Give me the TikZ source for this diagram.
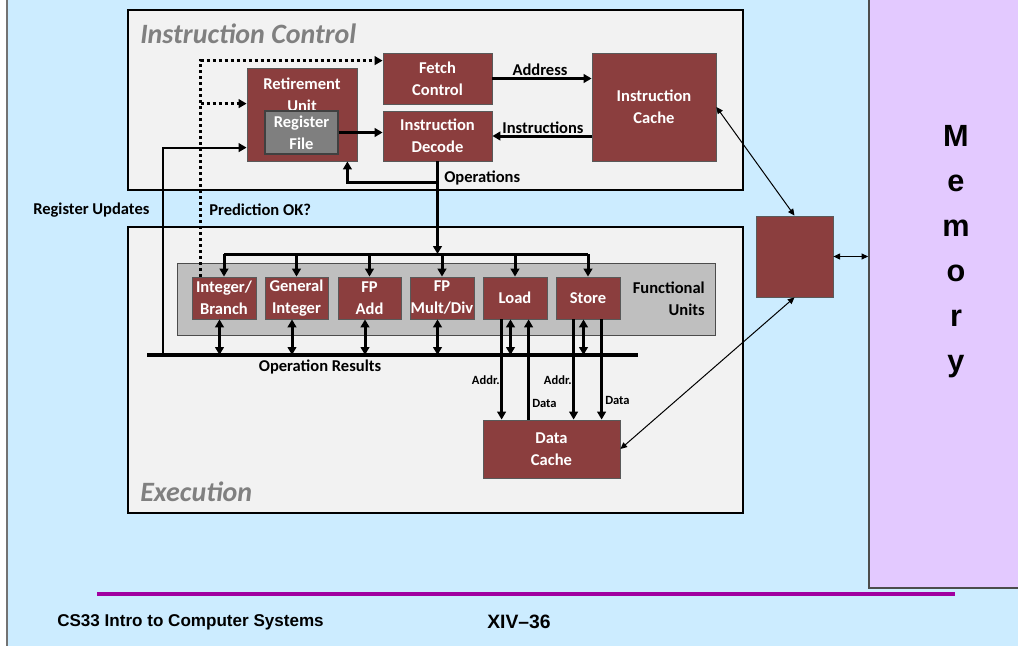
\documentclass[tikz,border=0pt]{standalone}
\usepackage{fontspec}
\setmainfont{Carlito}
\newfontfamily\arialf{Liberation Sans}
\usetikzlibrary{arrows.meta,calc}
\definecolor{bgblue}{RGB}{204,236,255}
\definecolor{panel}{RGB}{242,242,242}
\definecolor{maroon}{RGB}{139,62,62}
\definecolor{rfgray}{RGB}{127,127,127}
\definecolor{fugray}{RGB}{191,191,191}
\definecolor{mempurple}{RGB}{227,201,255}
\definecolor{footline}{RGB}{160,0,160}
\definecolor{titlegray}{RGB}{128,128,128}
\newcommand\lblfont{\fontsize{12.4}{16.5}\selectfont\bfseries}
\newcommand\smallfont{\fontsize{9.4}{11}\selectfont\bfseries}
% box from corner (#2,#3) to (#4,#5), style #1, name #6, text #7
\newcommand\boxat[7]{\node[#1, minimum width={(#4-#2)*0.75pt}, minimum height={(#5-#3)*0.75pt}] (#6) at ({(#2+#4)/2},{(#3+#5)/2}) {#7};}
\tikzset{
  panelbox/.style={fill=panel, draw=black, line width=1.5pt, inner sep=0pt},
  ubox/.style={fill=maroon, draw=black!65, line width=0.6pt, inner sep=0pt, text=white, font=\lblfont, align=center},
  rfbox/.style={fill=rfgray, draw=black!75, line width=0.8pt, inner sep=0pt, text=white, font=\lblfont, align=center},
  fubox/.style={fill=fugray, draw=black!70, line width=0.6pt, inner sep=0pt},
  membig/.style={fill=mempurple, draw=black!70, line width=1.2pt, inner sep=0pt},
  lbl/.style={font=\lblfont, text=black, inner sep=0pt, align=center},
  slbl/.style={font=\smallfont, text=black, inner sep=0pt},
  ttl/.style={font=\fontsize{21}{24}\selectfont\bfseries\itshape, text=titlegray, inner sep=0pt},
  thk/.style={line width=2.25pt, -{Triangle[length=6pt,width=6.5pt]}},
  thkb/.style={line width=2.25pt, {Triangle[length=6pt,width=6.5pt]}-{Triangle[length=6pt,width=6.5pt]}},
  dotline/.style={line width=2.25pt, dash pattern=on 2.25pt off 2.25pt, -{Triangle[length=6pt,width=6.5pt]}},
  thin/.style={line width=0.75pt, {Triangle[length=5pt,width=4.5pt]}-{Triangle[length=5pt,width=4.5pt]}},
  memtxt/.style={font=\arialf\fontsize{23}{26}\selectfont\bfseries, inner sep=0pt},
}
\begin{document}
\begin{tikzpicture}[x=0.75pt,y=-0.75pt]
\useasboundingbox (0,0) rectangle (1018,646);
\fill[white] (0,0) rectangle (1018,646);
\fill[bgblue] (7,0) rectangle (1018,646);
\draw[black!55, line width=1.2pt] (7,0) -- (7,646);

% memory
\boxat{membig}{869}{-10}{1030}{588}{memory}{}
\foreach \l [count=\i from 0] in {M,e,m,o,r,y}
  \node[memtxt, anchor=base] (mem\i) at (956,{146+45*\i}) {\l};

% panels
\boxat{panelbox}{128}{10}{743}{190}{ic}{}
\node[ttl, anchor=base west] (ictitle) at (140,43) {Instruction Control};
\boxat{panelbox}{128}{227}{743}{513}{ex}{}
\node[ttl, anchor=base west] (extitle) at (140,501) {Execution};

% instruction control units
\boxat{ubox}{383}{53}{492}{104}{fetch}{Fetch\\Control}
\boxat{ubox}{383}{111}{492}{161}{decode}{Instruction\\Decode}
\boxat{ubox}{247}{68}{357}{161}{ret}{}
\node[lbl, text=white] (retlbl) at (302,95) {Retirement\\Unit};
\boxat{rfbox}{265}{111}{338}{154}{regfile}{Register\\File}
\boxat{ubox}{592}{53}{716}{161}{icache}{Instruction\\Cache}

% functional units
\boxat{fubox}{177}{263}{715}{335}{fu}{}
\boxat{ubox}{192}{277}{256}{319}{ib}{Integer/\\Branch}
\boxat{ubox}{265}{277}{328}{319}{gi}{General\\Integer}
\boxat{ubox}{338}{277}{401}{319}{fpa}{FP\\Add}
\boxat{ubox}{410}{277}{474}{319}{fpm}{FP\\Mult/Div}
\boxat{ubox}{483}{277}{547}{319}{load}{Load}
\boxat{ubox}{556}{277}{620}{319}{store}{Store}
\node[lbl, align=right, anchor=east] (fulbl) at (705,299) {Functional\\Units};

\boxat{ubox}{483}{420}{620}{478}{dcache}{Data\\Cache}
\boxat{ubox}{756}{216}{833}{297}{membox}{}

% instruction control connectors
\draw[thk] (fetch.east) -- (fetch.east -| icache.west);
\node[lbl, anchor=south] (addrlbl) at (540,76) {Address};
\draw[thk] (decode.east -| icache.west) -- (decode.east);
\node[lbl, anchor=south] (instrlbl) at (543,134) {Instructions};
\draw[thk] (regfile.east) -- (regfile.east -| decode.west);

% operations
\coordinate (dist) at (223,254);
\coordinate (opsplit) at ($(decode.south)+(0,21)$);
\coordinate (retin) at ($(ret.south east)+(-10,0)$);
\draw[thk] (opsplit) -| (retin);
\draw[thk] (decode.south) -- (decode.south |- dist);
\node[lbl, anchor=west] (opslbl) at (444,178) {Operations};
\draw[line width=2.25pt] (ib.north |- dist) -- (store.north |- dist);
\foreach \u in {ib,gi,fpa,fpm,load,store}
  \draw[thk] (\u.north |- dist) -- (\u.north);

% prediction
\coordinate (predsrc) at ($(ib.north west)+(9,0)$);
\coordinate (fetchin) at ($(fetch.north west)+(0,8)$);
\coordinate (retdot) at ($(ret.north west)+(0,36)$);
\draw[dotline] (predsrc) |- (fetchin);
\draw[dotline] (predsrc |- retdot) -- (retdot);
\node[lbl, anchor=west] (predlbl) at (209,210) {Prediction OK?};

% operation results bus
\coordinate (busL) at (147,355);
\coordinate (busR) at (638,355);
\draw[line width=3pt] (busL) -- (busR);
\node[lbl] (oplbl) at (320,367) {Operation Results};
\foreach \u in {ib,gi,fpa,fpm,load,store}{
  \coordinate (\u-bt) at ($(\u.south)+(-4.5,0)$);
  \draw[thkb] (\u-bt) -- (\u-bt |- busL);
}

% register updates
\coordinate (rusrc) at (163,355);
\coordinate (retru) at ($(ret.north west)+(0,80)$);
\draw[line width=1.5pt, -{Triangle[length=6pt,width=6.5pt]}] (rusrc) |- (retru);
\node[lbl, anchor=west] (rulbl) at (33,210) {Register Updates};

% load/store to data cache
\coordinate (lA) at ($(load.south west)+(19,0)$);
\coordinate (lD) at ($(load.south west)+(46,0)$);
\coordinate (sA) at ($(store.south west)+(18,0)$);
\coordinate (sD) at ($(store.south west)+(46,0)$);
\draw[thk] (lA) -- (lA |- dcache.north);
\draw[thk] (lD |- dcache.north) -- (lD);
\draw[thk] (sA) -- (sA |- dcache.north);
\draw[thk] (sD) -- (sD |- dcache.north);
\node[slbl, anchor=east] (la) at (500,380) {Addr.};
\node[slbl, anchor=west] (ld) at (532,403) {Data};
\node[slbl, anchor=east] (sa) at (572,380) {Addr.};
\node[slbl, anchor=west] (sd) at (605,400) {Data};

% memory links
\draw[thin] (icache.east) -- (membox.north);
\draw[thin] (dcache.east) -- (membox.south);
\draw[thin] (membox.east) -- (membox.east -| memory.west);

% footer
\coordinate (fl1) at (97,594);
\coordinate (fl2) at (955,594);
\draw[footline, line width=2.4pt] (fl1) -- (fl2);
\node[font=\arialf\fontsize{12.8}{15}\selectfont\bfseries, anchor=base west, inner sep=0pt] (course) at (57,626) {CS33 Intro to Computer Systems};
\node[font=\arialf\fontsize{14.5}{17}\selectfont\bfseries, anchor=base west, inner sep=0pt] (page) at (487,628) {XIV–36};
\end{tikzpicture}
\end{document}
